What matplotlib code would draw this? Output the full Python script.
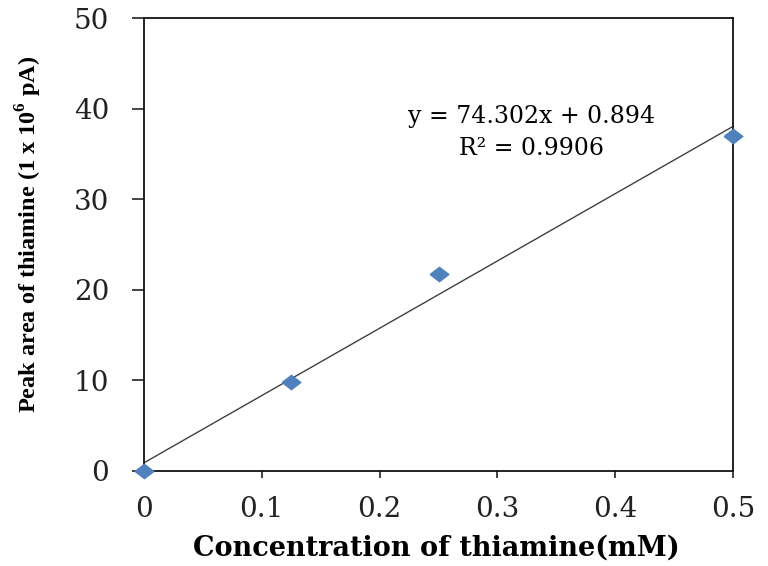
import matplotlib
matplotlib.use("Agg")
import matplotlib.pyplot as plt
import numpy as np

# thiamine calibration points
conc = [0, 0.125, 0.25, 0.5]
peak_area = [0, 9.8, 21.7, 37.0]
slope, intercept = 74.302, 0.894
x_ticks = [0, 0.1, 0.2, 0.3, 0.4, 0.5]
y_ticks = [0, 10, 20, 30, 40, 50]

plt.rcParams['font.family'] = ['DejaVu Serif']
plt.rcParams['mathtext.fontset'] = 'custom'
plt.rcParams['mathtext.rm'] = 'Liberation Serif'
plt.rcParams['mathtext.bf'] = 'Liberation Serif:bold'

fig = plt.figure(figsize=(7.68, 5.66), dpi=100)
ax = fig.add_axes([0.1875, 0.168, 0.767, 0.80])

# the diamonds in the picture are a bit wider than tall
wide_diamond = [(-1.3, 0), (0, 1), (1.3, 0), (0, -1), (-1.3, 0)]

xs = np.array([0, 0.5])
ax.plot(xs, slope * xs + intercept, color='#404040', lw=1.0, zorder=2)
ax.scatter(conc, peak_area, marker=wide_diamond, s=180, color='#4F81BD',
           zorder=3, clip_on=False)

ax.set_xlim(0, 0.5)
ax.set_ylim(0, 50)
ax.set_xticks(x_ticks)
ax.set_xticklabels([f"{t:g}" for t in x_ticks])
ax.set_yticks(y_ticks)
ax.tick_params(axis='both', direction='out', width=1.2, labelsize=20, colors='#222222')
ax.tick_params(axis='y', length=9, pad=16)
ax.tick_params(axis='x', length=5, pad=13)
for sp in ax.spines.values():
    sp.set_linewidth(1.3)
    sp.set_color('#111111')

ax.set_xlabel("Concentration of thiamine(mM)", fontsize=19.5, fontweight='bold', va='center')
ax.xaxis.set_label_coords(0.496, -0.170)
ax.set_ylabel(r"Peak area of thiamine (1 x 10$^{\mathbf{6}}$ pA)", fontsize=17.5,
              fontweight='bold', family='Liberation Serif', va='center')
ax.yaxis.set_label_coords(-0.195, 0.523)

ax.text(0.329, 38.41, "y = 74.302x + 0.894", fontsize=17, ha='center', va='baseline')
ax.text(0.329, 34.88, "R² = 0.9906", fontsize=17, ha='center', va='baseline')

fig.savefig("out.png", dpi=100)
